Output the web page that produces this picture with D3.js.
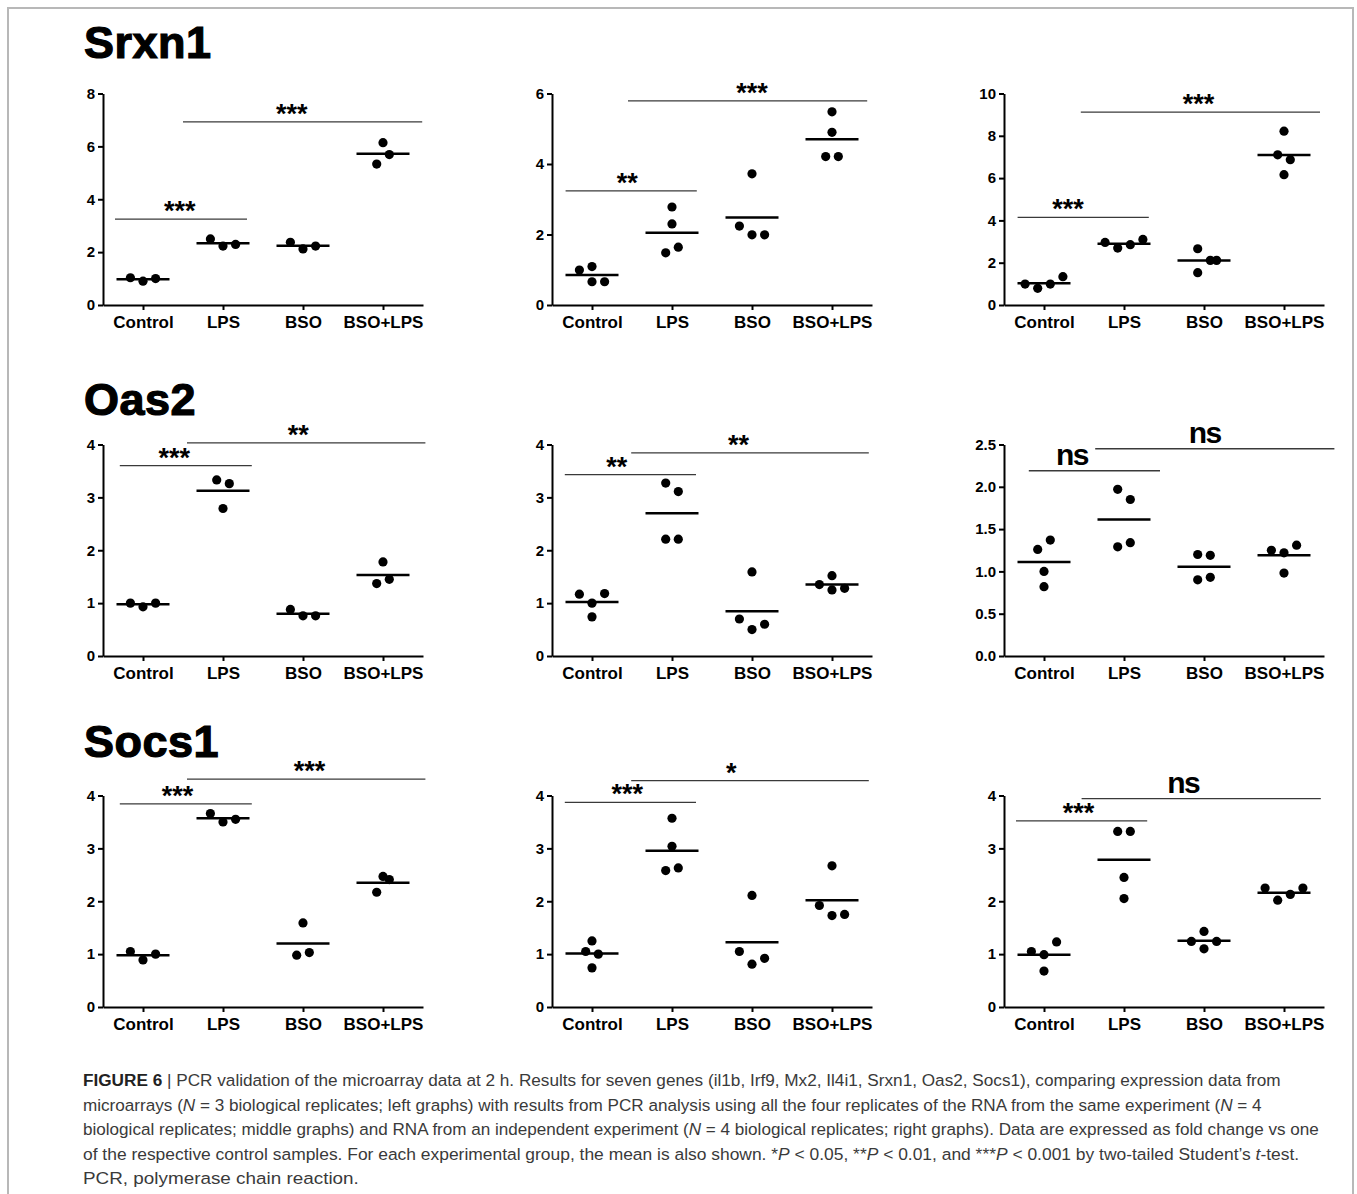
<!doctype html>
<html>
<head>
<meta charset="utf-8">
<script src="https://d3js.org/d3.v7.min.js"></script>
<style>
  body { margin: 0; background: #fff; }
  text { font-family: "Liberation Sans", Arial, sans-serif; }
</style>
</head>
<body>
<div id="viz"></div>
<script>

var categories = ['Control', 'LPS', 'BSO', 'BSO+LPS'];
var genes = ['Srxn1', 'Oas2', 'Socs1'];

// fold change per replicate, one array per group (Control, LPS, BSO, BSO+LPS)
var srxn1Left  = [[1.03, 0.90, 1.00], [2.50, 2.23, 2.29], [2.37, 2.12, 2.23], [6.14, 5.33, 5.69]];
var srxn1Mid   = [[0.99, 1.09, 0.66, 0.66], [2.78, 2.30, 1.48, 1.64], [3.72, 2.24, 1.99, 1.99], [5.48, 4.90, 4.21, 4.21]];
var srxn1Right = [[0.99, 0.79, 0.99, 1.34], [2.96, 2.69, 2.85, 3.10], [2.66, 1.53, 2.11, 2.11], [8.22, 7.10, 6.87, 6.16]];
var oas2Left   = [[1.00, 0.93, 1.00], [3.33, 3.26, 2.79], [0.88, 0.76, 0.76], [1.78, 1.37, 1.45]];
var oas2Mid    = [[1.17, 1.18, 1.00, 0.74], [3.27, 3.11, 2.21, 2.21], [1.59, 0.70, 0.60, 0.50], [1.52, 1.35, 1.28, 1.25]];
var oas2Right  = [[1.26, 1.37, 1.00, 0.82], [1.97, 1.85, 1.29, 1.34], [1.20, 1.19, 0.90, 0.93], [1.25, 1.22, 1.31, 0.98]];
var socs1Left  = [[1.05, 0.89, 1.00], [3.66, 3.50, 3.55], [1.59, 0.98, 1.03], [2.47, 2.41, 2.17]];
var socs1Mid   = [[1.25, 1.05, 1.00, 0.74], [3.57, 3.04, 2.58, 2.63], [2.11, 1.05, 0.92, 0.81], [2.67, 1.92, 1.73, 1.75]];
var socs1Right = [[1.05, 1.23, 0.99, 0.68], [3.32, 3.32, 2.45, 2.05], [1.43, 1.24, 1.24, 1.10], [2.25, 2.25, 2.13, 2.02]];

// sideways slot of each dot (GraphPad spreads overlapping points)
var srxn1LeftJit  = [[-2, 0, 2], [-2, 0, 2], [-2, 0, 2], [0, -1, 1]];
var srxn1MidJit   = [[-2, 0, 0, 2], [0, 0, -1, 1], [0, -2, 0, 2], [0, 0, -1, 1]];
var srxn1RightJit = [[-3, -1, 1, 3], [-3, -1, 1, 3], [-1, -1, 1, 2], [0, -1, 1, 0]];
var oas2LeftJit   = [[-2, 0, 2], [-1, 1, 0], [-2, 0, 2], [0, -1, 1]];
var oas2MidJit    = [[-2, 2, 0, 0], [-1, 1, -1, 1], [0, -2, 2, 0], [0, -2, 2, 0]];
var oas2RightJit  = [[-1, 1, 0, 0], [-1, 1, -1, 1], [-1, 1, -1, 1], [-2, 0, 2, 0]];
var socs1LeftJit  = [[-2, 0, 2], [-2, 0, 2], [0, -1, 1], [0, 1, -1]];
var socs1MidJit   = [[0, -1, 1, 0], [0, 0, -1, 1], [0, -2, 2, 0], [0, -2, 0, 2]];
var socs1RightJit = [[-2, 2, 0, 0], [-1, 1, 0, 0], [0, -2, 2, 0], [-3, 3, 1, -1]];

// y axis ranges
var yMax  = [[8, 6, 10], [4, 4, 2.5], [4, 4, 4]];
var yStep = [[2, 2, 2], [1, 1, 0.5], [1, 1, 1]];

// significance bars: [from group, to group, height, label, label at group]
var srxn1Bars = [
  [[-0.35, 1.30, 3.25, '***', 0.46], [0.50, 3.49, 6.93, '***', 1.86]],
  [[-0.33, 1.31, 3.24, '**', 0.44],  [0.45, 3.44, 5.79, '***', 2.00]],
  [[-0.33, 1.31, 4.14, '***', 0.30], [0.46, 3.45, 9.12, '***', 1.93]]
];
var oas2Bars = [
  [[-0.29, 1.36, 3.60, '***', 0.39], [0.55, 3.53, 4.03, '**', 1.94]],
  [[-0.34, 1.30, 3.43, '**', 0.31],  [0.49, 3.46, 3.84, '**', 1.83]],
  [[-0.19, 1.45, 2.19, 'ns', 0.35],  [0.64, 3.63, 2.45, 'ns', 2.01]]
];
var socs1Bars = [
  [[-0.29, 1.36, 3.84, '***', 0.43], [0.55, 3.53, 4.31, '***', 2.08]],
  [[-0.34, 1.30, 3.87, '***', 0.44], [0.49, 3.46, 4.28, '*', 1.74]],
  [[-0.35, 1.29, 3.52, '***', 0.43], [0.47, 3.46, 3.94, 'ns', 1.74]]
];

var captionLines = [
  [['FIGURE 6', 'b'], [' | PCR validation of the microarray data at 2 h. Results for seven genes (il1b, Irf9, Mx2, Il4i1, Srxn1, Oas2, Socs1), comparing expression data from', '']],
  [['microarrays (', ''], ['N', 'i'], [' = 3 biological replicates; left graphs) with results from PCR analysis using all the four replicates of the RNA from the same experiment (', ''], ['N', 'i'], [' = 4', '']],
  [['biological replicates; middle graphs) and RNA from an independent experiment (', ''], ['N', 'i'], [' = 4 biological replicates; right graphs). Data are expressed as fold change vs one', '']],
  [['of the respective control samples. For each experimental group, the mean is also shown. *', ''], ['P', 'i'], [' < 0.05, **', ''], ['P', 'i'], [' < 0.01, and ***', ''], ['P', 'i'], [' < 0.001 by two-tailed Student\u2019s ', ''], ['t', 'i'], ['-test.', '']],
  [['PCR, polymerase chain reaction.', '']]
];
var captionRight = [1282, 1263, 1320, 1300, 359];

var values = [[srxn1Left, srxn1Mid, srxn1Right], [oas2Left, oas2Mid, oas2Right], [socs1Left, socs1Mid, socs1Right]];
var jitters = [[srxn1LeftJit, srxn1MidJit, srxn1RightJit], [oas2LeftJit, oas2MidJit, oas2RightJit], [socs1LeftJit, socs1MidJit, socs1RightJit]];
var bars = [srxn1Bars, oas2Bars, socs1Bars];

var W = 1357, H = 1194;
var colLeft = [103, 552, 1004];
var rowTop = [93.5, 444.5, 795.5];
var pw = 320, ph = 211.5;
var titleY = [58, 415, 757];

var svg = d3.select('#viz').append('svg')
  .attr('width', W)
  .attr('height', H)

// frame
svg.append('rect')
  .attr('x', 8).attr('y', 8)
  .attr('width', 1345).attr('height', 1200)
  .style('fill', 'none')
  .style('stroke', '#b8b8b8')
  .style('stroke-width', 2)

genes.forEach(function(gene, r) {
  svg.append('text')
    .attr('x', 84).attr('y', titleY[r])
    .style('font-size', '45px')
    .style('font-weight', 'bold')
    .style('stroke', '#000')
    .style('stroke-width', 1.2)
    .style('letter-spacing', '0.5px')
    .text(gene)

  for (var c = 0; c < 3; c++) {
    var g = svg.append('g').attr('transform', 'translate(' + colLeft[c] + ',' + rowTop[r] + ')');
    var x = d3.scalePoint().domain(categories).range([0, pw]).padding(0.5);
    var xi = d3.scaleLinear().domain([-0.5, 3.5]).range([0, pw]);
    var y = d3.scaleLinear().domain([0, yMax[r][c]]).range([ph, 0]);
    var step = yStep[r][c];

    var yAxis = g.append('g')
      .call(d3.axisLeft(y)
        .tickValues(d3.range(0, yMax[r][c] + step / 2, step))
        .tickSize(5).tickSizeOuter(0).tickPadding(3)
        .tickFormat(step < 1 ? d3.format('.1f') : d3.format('d')))
    var xAxis = g.append('g')
      .attr('transform', 'translate(0,' + ph + ')')
      .call(d3.axisBottom(x).tickSize(5).tickSizeOuter(0).tickPadding(6))

    g.selectAll('.domain, .tick line').style('stroke', '#000').style('stroke-width', 2)
    yAxis.selectAll('text').style('font-size', '15px').style('font-weight', 'bold').style('font-family', '"Liberation Sans", Arial, sans-serif').attr('fill', '#000')
    xAxis.selectAll('text').style('font-size', '17px').style('font-weight', 'bold').style('font-family', '"Liberation Sans", Arial, sans-serif').attr('fill', '#000')

    var groups = values[r][c];
    var jit = jitters[r][c];

    // mean lines
    g.selectAll('.mean')
      .data(groups)
      .enter()
      .append('line')
      .attr('x1', function(d, i) { return x(categories[i]) - 26.5; })
      .attr('x2', function(d, i) { return x(categories[i]) + 26.5; })
      .attr('y1', function(d) { return y(d3.mean(d)); })
      .attr('y2', function(d) { return y(d3.mean(d)); })
      .style('stroke', '#000')
      .style('stroke-width', 2.5)

    var pts = [];
    groups.forEach(function(vals, i) {
      vals.forEach(function(v, k) { pts.push({ cat: categories[i], v: v, j: jit[i][k] }); });
    });
    g.selectAll('.dot')
      .data(pts)
      .enter()
      .append('circle')
      .attr('r', 4.6)
      .attr('cx', function(d) { return x(d.cat) + d.j * 6.3; })
      .attr('cy', function(d) { return y(d.v); })
      .style('fill', '#000')

    // significance bars
    var b = g.selectAll('.bar')
      .data(bars[r][c])
      .enter()
      .append('g')
    b.append('line')
      .attr('x1', function(d) { return xi(d[0]); })
      .attr('x2', function(d) { return xi(d[1]); })
      .attr('y1', function(d) { return y(d[2]); })
      .attr('y2', function(d) { return y(d[2]); })
      .style('stroke', '#3a3a3a')
      .style('stroke-width', 1.3)
    b.append('text')
      .attr('x', function(d) { return xi(d[4]); })
      .attr('y', function(d) { return y(d[2]) + (d[3] == 'ns' ? -6 : 1); })
      .attr('text-anchor', 'middle')
      .style('font-weight', 'bold')
      .style('font-size', function(d) { return d[3] == 'ns' ? '30px' : '27px'; })
      .style('letter-spacing', function(d) { return d[3] == 'ns' ? '-1.5px' : '0px'; })
      .text(function(d) { return d[3]; })
  }
});

// caption
captionLines.forEach(function(parts, i) {
  var cg = svg.append('g');
  var t = cg.append('text')
    .attr('x', 0).attr('y', 0)
    .style('font-size', '17px')
    .style('fill', '#3a3a3a')
  parts.forEach(function(p) {
    t.append('tspan')
      .style('font-weight', p[1] == 'b' ? 'bold' : 'normal')
      .style('font-style', p[1] == 'i' ? 'italic' : 'normal')
      .style('fill', p[1] == 'b' ? '#222' : '#3a3a3a')
      .text(p[0])
  });
  var w = t.node().getComputedTextLength();
  var sx = (captionRight[i] - 83) / w;
  cg.attr('transform', 'translate(83,' + (1086 + i * 24.6) + ') scale(' + sx + ',1)');
});

</script>
</body>
</html>
